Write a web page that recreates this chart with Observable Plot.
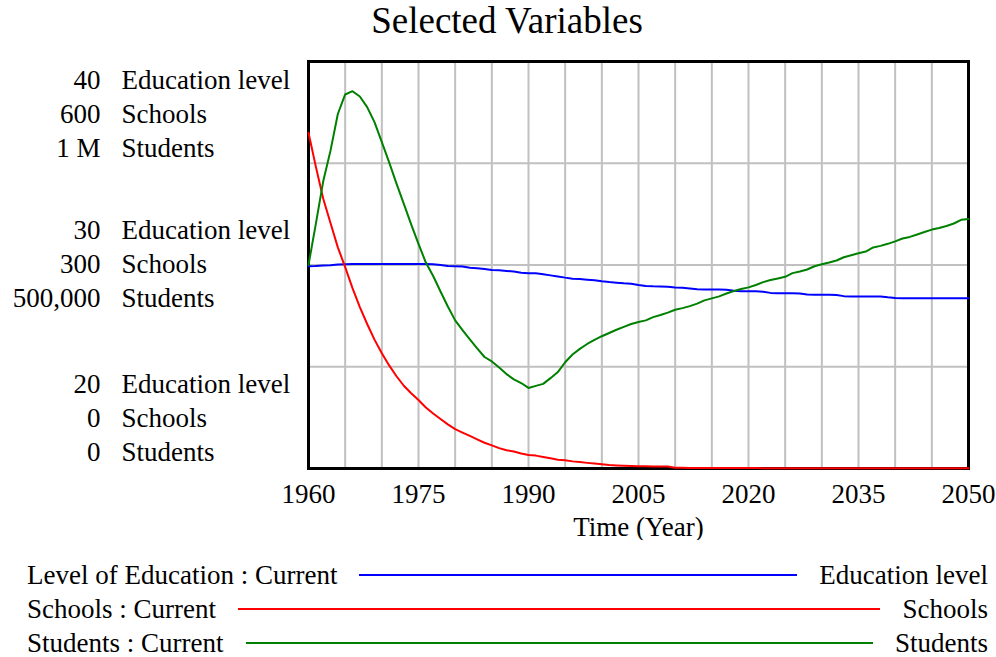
<!DOCTYPE html>
<html>
<head>
<meta charset="utf-8">
<script src="https://cdn.jsdelivr.net/npm/d3@7"></script>
<script src="https://cdn.jsdelivr.net/npm/@observablehq/plot@0.6"></script>
<style>
  html, body { margin: 0; padding: 0; background: #fff; }
  #wrap { position: relative; width: 996px; height: 657px; font-family: "Liberation Serif", "Times New Roman", serif; color: #000; }
  #title { position: absolute; left: 0; top: 0; width: 1014px; text-align: center; font-size: 37px; line-height: 42px; }
  #chart { position: absolute; left: 0; top: 0; }
  #legend { position: absolute; left: 0; top: 558px; width: 996px; font-size: 27px; }
  .row { display: flex; align-items: center; height: 34px; line-height: 34px; padding: 0 8px 0 27px; white-space: nowrap; }
  .row .ln { flex: 1; height: 2px; margin: 0 22px; }
</style>
</head>
<body>
<div id="wrap">
  <div id="chart"></div>
  <div id="title">Selected Variables</div>
  <div id="legend"></div>
</div>
<script>
// Simulation output, one value per year
const years = d3.range(1960, 2051);

const educationLevel = [
  29.94, 29.95, 29.97, 29.99, 30.02, 30.04, 30.05, 30.05, 30.05, 30.05,
  30.05, 30.05, 30.05, 30.05, 30.05, 30.05, 30.05, 30.04, 30.00, 29.95,
  29.94, 29.93, 29.87, 29.84, 29.80, 29.76, 29.74, 29.71, 29.68, 29.62,
  29.60, 29.59, 29.54, 29.49, 29.44, 29.38, 29.33, 29.31, 29.28, 29.25,
  29.20, 29.16, 29.13, 29.10, 29.08, 29.02, 28.97, 28.95, 28.94, 28.93,
  28.90, 28.88, 28.85, 28.81, 28.80, 28.80, 28.79, 28.78, 28.73, 28.71,
  28.71, 28.71, 28.69, 28.63, 28.61, 28.61, 28.61, 28.60, 28.55, 28.54,
  28.54, 28.54, 28.53, 28.47, 28.45, 28.45, 28.45, 28.45, 28.45, 28.41,
  28.38, 28.37, 28.37, 28.37, 28.37, 28.37, 28.37, 28.37, 28.37, 28.37,
  28.37
];

const schools = [
  495, 445, 398, 362, 326, 297, 266, 238, 213, 190,
  170, 152, 136, 122, 111, 101, 90, 81, 73, 65,
  58, 53, 48, 43, 38, 34, 30, 27, 25, 22,
  20, 19, 17, 15, 13, 12, 10.5, 9.5, 8.3, 7.2,
  6.2, 5.2, 4.5, 4.0, 3.7, 3.4, 3.2, 3.0, 2.9, 2.8,
  1.2, 1.0, 0.9, 0.9, 0.8, 0.8, 0.7, 0.7, 0.7, 0.6,
  0.6, 0.6, 0.5, 0.5, 0.5, 0.5, 0.4, 0.4, 0.4, 0.4,
  0.4, 0.3, 0.3, 0.3, 0.3, 0.3, 0.3, 0.3, 0.3, 0.2,
  0.2, 0.2, 0.2, 0.2, 0.2, 0.2, 0.2, 0.2, 0.2, 0.2,
  0.2
];

const students = [
  500000, 601000, 705000, 781000, 871000, 919000, 927000, 914000, 888000, 851000,
  802000, 752000, 700000, 650000, 600000, 552000, 506000, 473000, 435000, 398000,
  364000, 340000, 317000, 295000, 274000, 263000, 248000, 232000, 219000, 210000,
  198000, 203000, 208000, 222000, 237000, 261000, 280000, 294000, 306000, 316000,
  325000, 333000, 341000, 348000, 355000, 360000, 364000, 372000, 377000, 383000,
  390000, 394000, 399000, 405000, 413000, 418000, 423000, 430000, 436000, 441000,
  445000, 451000, 458000, 463000, 467000, 471000, 480000, 484000, 489000, 497000,
  502000, 506000, 511000, 519000, 524000, 529000, 533000, 543000, 547000, 552000,
  558000, 565000, 569000, 575000, 581000, 587000, 591000, 596000, 602000, 611000,
  613000
];

// Axis ranges and tick labels for the three stacked value axes
const seriesNames = ["Education level", "Schools", "Students"];
const legendNames = ["Level of Education : Current", "Schools : Current", "Students : Current"];
const seriesColors = ["#0000ff", "#ff0000", "#008000"];
const eduTicks = [20, 30, 40];
const schoolTicks = [0, 300, 600];
const studentTicks = [0, 500000, 1000000];
const eduTickLabels = ["20", "30", "40"];
const schoolTickLabels = ["0", "300", "600"];
const studentTickLabels = ["0", "500,000", "1 M"];

const xTickYears = [1960, 1975, 1990, 2005, 2020, 2035, 2050];
const gridYears = d3.range(1960, 2051, 5);

const series = [
  {name: seriesNames[0], values: educationLevel, ticks: eduTicks, color: seriesColors[0]},
  {name: seriesNames[1], values: schools, ticks: schoolTicks, color: seriesColors[1]},
  {name: seriesNames[2], values: students, ticks: studentTicks, color: seriesColors[2]}
];

// Each series is drawn on a shared 0..1 scale spanning its own axis range
const rows = series.flatMap(s => {
  const lo = s.ticks[0], hi = s.ticks[s.ticks.length - 1];
  return years.map((year, i) => ({series: s.name, year, value: s.values[i], t: (s.values[i] - lo) / (hi - lo)}));
});

// Stacked tick labels: one group per tick position
const tickLabelSets = [eduTickLabels, schoolTickLabels, studentTickLabels];
const groups = [0, 1, 2].map(k => ({
  pos: k / 2,
  numbers: tickLabelSets.map(set => set[k]).join("\n"),
  names: seriesNames.join("\n")
}));
const groupAnchor = ["bottom", "middle", "top"];
const groupDy = [-8, -3, 3];

const labelMarks = groups.flatMap((g, k) => [
  Plot.text([g], {y: "pos", text: "numbers", frameAnchor: "left", textAnchor: "end", dx: -208,
    lineAnchor: groupAnchor[k], lineHeight: 34 / 27, dy: groupDy[k]}),
  Plot.text([g], {y: "pos", text: "names", frameAnchor: "left", textAnchor: "start", dx: -187,
    lineAnchor: groupAnchor[k], lineHeight: 34 / 27, dy: groupDy[k]})
]);

const chart = Plot.plot({
  width: 996,
  height: 540,
  marginLeft: 308,
  marginRight: 28,
  marginTop: 61,
  marginBottom: 72,
  style: {fontFamily: '"Liberation Serif", "Times New Roman", serif', fontSize: "27px", background: "transparent", color: "#000"},
  x: {domain: [1960, 2050]},
  y: {domain: [0, 1]},
  color: {domain: seriesNames, range: seriesColors},
  marks: [
    Plot.gridX(gridYears, {stroke: "#c0c0c0", strokeOpacity: 1, strokeWidth: 2}),
    Plot.gridY([0.25, 0.5, 0.75], {stroke: "#c0c0c0", strokeOpacity: 1, strokeWidth: 2}),
    Plot.frame({stroke: "#000", strokeWidth: 3}),
    Plot.line(rows, {x: "year", y: "t", z: "series", stroke: "series", strokeWidth: 2}),
    Plot.axisX(xTickYears, {tickSize: 0, tickPadding: 15, tickFormat: d => String(d), label: null}),
    Plot.axisY({ticks: [], label: null}),
    Plot.text(["Time (Year)"], {frameAnchor: "bottom", lineAnchor: "bottom", dy: 67}),
    ...labelMarks
  ]
});
document.getElementById("chart").appendChild(chart);

// Legend rows: run name, colour sample, series name
const legend = document.getElementById("legend");
series.forEach((s, i) => {
  const row = document.createElement("div");
  row.className = "row";
  const left = document.createElement("span");
  left.textContent = legendNames[i];
  const ln = document.createElement("span");
  ln.className = "ln";
  ln.style.background = s.color;
  const right = document.createElement("span");
  right.textContent = s.name;
  row.append(left, ln, right);
  legend.appendChild(row);
});
</script>
</body>
</html>
